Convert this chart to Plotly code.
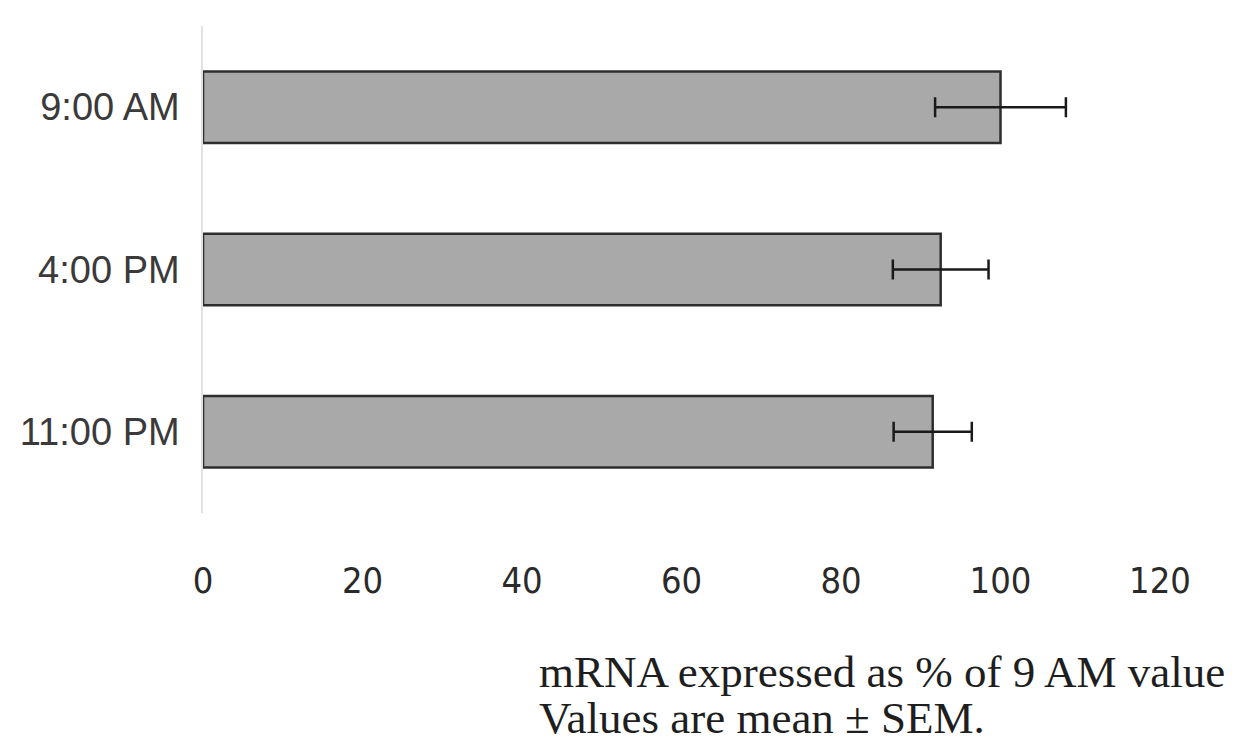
import plotly.graph_objects as go

categories = ["9:00 AM", "4:00 PM", "11:00 PM"]
values = [100, 92.5, 91.5]
sem = [8.2, 6.0, 4.9]
x_ticks = [0, 20, 40, 60, 80, 100, 120]
axis_title = "mRNA expressed as % of 9 AM value"
note = "Values are mean ± SEM."

# the page body adds an 8px offset; margins are set to compensate
OFF = 8
W, H = 1240, 750
L, R, T = 200 - OFF, 80 + OFF, 26 - OFF
B = H - (513 - OFF)
pw, ph = W - L - R, H - T - B


def px_x(px):
    return (px - OFF - L) / pw


def px_y(py):
    return (H - B - (py - OFF)) / ph


fig = go.Figure(
    go.Bar(
        y=categories,
        x=values,
        orientation="h",
        width=0.44,
        marker=dict(color="#a9a9a9", line=dict(color="#2e2e2e", width=2.5)),
        error_x=dict(type="data", array=sem, visible=True, color="#1a1a1a",
                     thickness=2.5, width=10),
    )
)

fig.update_layout(
    width=W, height=H,
    margin=dict(l=L, r=R, t=T, b=B),
    paper_bgcolor="white", plot_bgcolor="white",
    showlegend=False,
    xaxis=dict(
        range=[0, 120], tickvals=x_ticks, ticktext=[str(v) for v in x_ticks],
        showgrid=False, zeroline=False, showline=False, ticks="",
        ticklabelstandoff=43,
        tickfont=dict(family="DejaVu Sans Condensed, Liberation Sans Narrow, Liberation Sans, Arial",
                      size=36, color="#2a2a2a"),
    ),
    yaxis=dict(
        autorange="reversed", showgrid=False, zeroline=False,
        showline=True, linecolor="#e2e2e2", linewidth=1.5, ticks="",
        ticklabelstandoff=14,
        tickfont=dict(family="Liberation Sans, Arial", size=38, color="#3a3a3a"),
    ),
    annotations=[
        dict(text=axis_title, xref="paper", yref="paper", x=px_x(535), y=px_y(672),
             xanchor="left", yanchor="middle", showarrow=False,
             font=dict(family="Liberation Serif, Times New Roman, serif", size=45, color="#1e1e1e")),
        dict(text=note, xref="paper", yref="paper", x=px_x(535), y=px_y(718),
             xanchor="left", yanchor="middle", showarrow=False,
             font=dict(family="Liberation Serif, Times New Roman, serif", size=45, color="#1e1e1e")),
    ],
)

fig.write_html("out.html")
